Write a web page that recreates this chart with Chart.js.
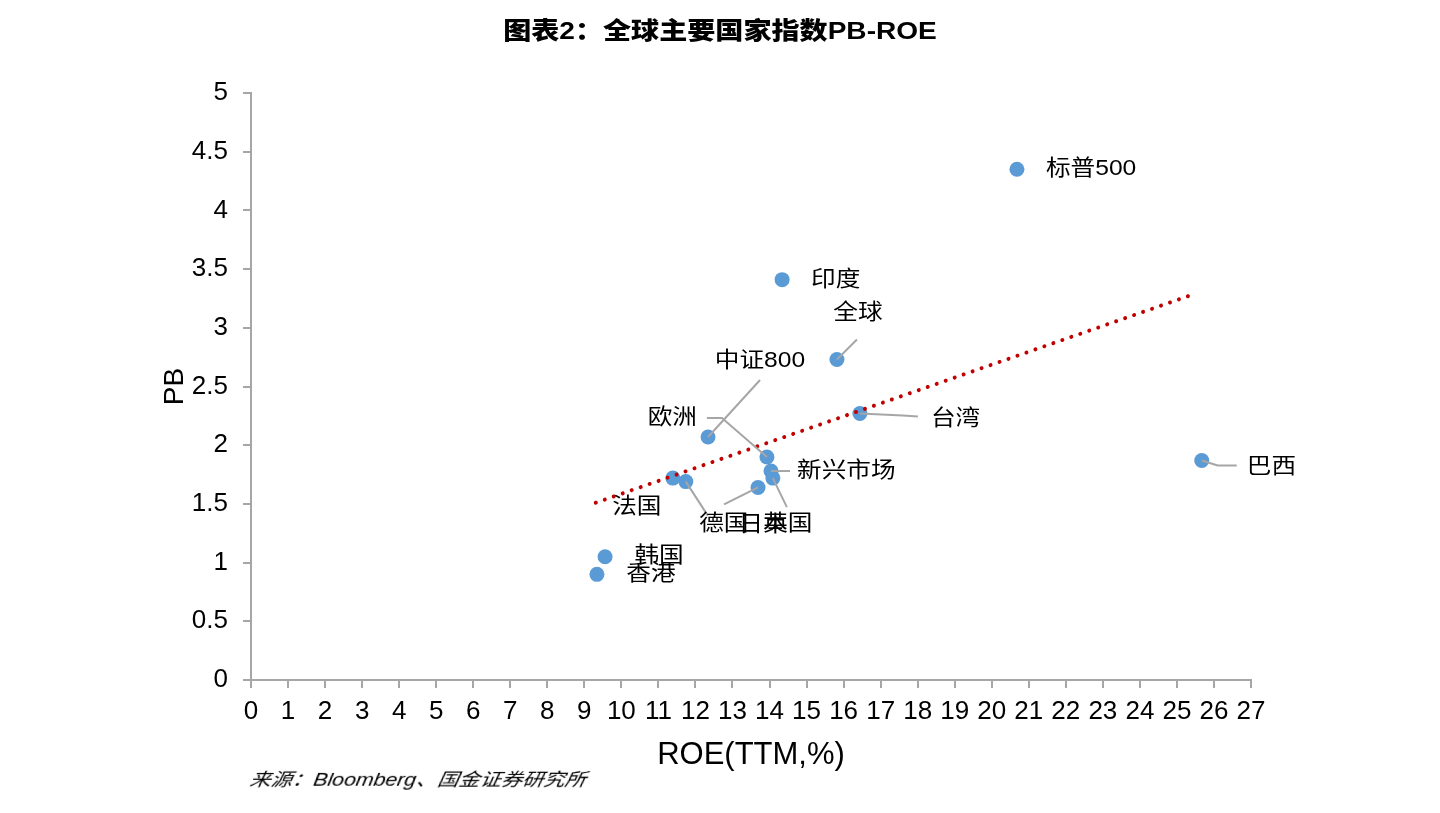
<!DOCTYPE html>
<html>
<head>
<meta charset="utf-8">
<script src="https://cdn.jsdelivr.net/npm/chart.js@4/dist/chart.umd.min.js"></script>
<style>
  html, body { margin: 0; padding: 0; background: #fff; }
  #wrap { position: relative; width: 1440px; height: 813px; overflow: hidden; }
  #c { position: absolute; left: 0; top: 0; }
  #title { position: absolute; left: 0; width: 1440px; top: 15px; text-align: center;
           font: 900 24px "Liberation Sans", "Noto Sans CJK SC", sans-serif; color: #000;
           transform: scaleX(1.17); transform-origin: 720px 0; line-height: 32px; }
  #source { position: absolute; left: 252px; top: 767px; white-space: nowrap;
            font: italic 18px "Liberation Sans", "Noto Sans CJK SC", sans-serif; color: #000;
            transform: scaleX(1.18) skewX(-8deg); transform-origin: 0 0; line-height: 26px; }
</style>
</head>
<body>
<div id="wrap">
  <canvas id="c" width="1440" height="813"></canvas>
  <div id="title">图表2：全球主要国家指数PB-ROE</div>
  <div id="source">来源：Bloomberg、国金证券研究所</div>
</div>
<script>
// ---- data ----
const names = ['标普500','印度','全球','中证800','台湾','巴西','欧洲','新兴市场','英国','日本','德国','法国','韩国','香港'];
const roe   = [20.68, 14.34, 15.82, 12.34, 16.44, 25.67, 13.93, 14.04, 14.09, 13.69, 11.74, 11.39, 9.56, 9.34];
const pb    = [4.35, 3.41, 2.73, 2.07, 2.27, 1.87, 1.90, 1.78, 1.72, 1.64, 1.69, 1.72, 1.05, 0.90];
const trendX = [9.31, 25.49];
const trendY = [1.51, 3.29];
const xTicks = [0,1,2,3,4,5,6,7,8,9,10,11,12,13,14,15,16,17,18,19,20,21,22,23,24,25,26,27];
const yTicks = [0,0.5,1,1.5,2,2.5,3,3.5,4,4.5,5];

// ---- label layout (pixel offsets from each point) ----
const labelLayout = [
  {align:'left',   dx:29,  dy:0,   leader:null},
  {align:'left',   dx:29,  dy:0,   leader:null},
  {align:'center', dx:21,  dy:-47, leader:[[0,0],[20,-20]]},
  {align:'center', dx:52,  dy:-76, leader:[[0,0],[52,-57]]},
  {align:'left',   dx:71,  dy:5,   leader:[[0,0],[43,2],[58,3]]},
  {align:'left',   dx:45,  dy:6,   leader:[[0,0],[16,5],[35,5]]},
  {align:'right',  dx:-70, dy:-39, leader:[[0,0],[-45,-39],[-60,-39]]},
  {align:'left',   dx:26,  dy:0,   leader:[[0,0],[19,0]]},
  {align:'center', dx:15,  dy:46,  leader:[[0,0],[14,29]]},
  {align:'center', dx:5,   dy:37,  leader:[[0,0],[-34,17]]},
  {align:'center', dx:38,  dy:42,  leader:[[0,0],[22,34]]},
  {align:'center', dx:-36, dy:29,  leader:null},
  {align:'center', dx:54,  dy:-1,  leader:null},
  {align:'center', dx:54,  dy:0,   leader:null}
];

const points = roe.map((v, i) => ({x: v, y: pb[i]}));
const trend = trendX.map((v, i) => ({x: v, y: trendY[i]}));

const labelPlugin = {
  id: 'pointLabels',
  afterDatasetsDraw(chart) {
    const ctx = chart.ctx;
    const xs = chart.scales.x, ys = chart.scales.y;
    ctx.save();
    ctx.strokeStyle = '#a6a6a6';
    ctx.lineWidth = 2;
    ctx.lineJoin = 'round';
    points.forEach((p, i) => {
      const L = labelLayout[i];
      if (!L.leader) return;
      const px = xs.getPixelForValue(p.x), py = ys.getPixelForValue(p.y);
      ctx.beginPath();
      L.leader.forEach((o, k) => {
        if (k === 0) ctx.moveTo(px + o[0], py + o[1]); else ctx.lineTo(px + o[0], py + o[1]);
      });
      ctx.stroke();
    });
    ctx.fillStyle = '#000';
    ctx.font = '22px "Liberation Sans", "Noto Sans CJK SC", sans-serif';
    ctx.textBaseline = 'middle';
    points.forEach((p, i) => {
      const L = labelLayout[i];
      const px = xs.getPixelForValue(p.x), py = ys.getPixelForValue(p.y);
      ctx.save();
      ctx.translate(px + L.dx, py + L.dy);
      ctx.scale(1.12, 1);
      ctx.textAlign = L.align;
      ctx.fillText(names[i], 0, 0);
      ctx.restore();
    });
    ctx.restore();
  }
};

const axisColor = '#a6a6a6';
const tickFontX = {family: '"Liberation Sans", Arial, sans-serif', size: 26};
const tickFontY = {family: '"Liberation Sans", Arial, sans-serif', size: 26};

new Chart(document.getElementById('c'), {
  type: 'scatter',
  data: {
    datasets: [
      {
        type: 'line',
        data: trend,
        borderColor: '#c00000',
        borderWidth: 4,
        borderDash: [0.001, 9.5],
        borderCapStyle: 'round',
        pointRadius: 0,
        fill: false
      },
      {
        data: points,
        backgroundColor: '#5b9bd5',
        borderWidth: 0,
        pointRadius: 7.5,
        pointHoverRadius: 7.5
      }
    ]
  },
  options: {
    responsive: false,
    devicePixelRatio: 1,
    animation: false,
    events: [],
    layout: { padding: { left: 0, right: 189, top: 93, bottom: 38 } },
    plugins: { legend: { display: false }, tooltip: { enabled: false }, title: { display: false } },
    scales: {
      x: {
        type: 'linear',
        min: 0, max: 27,
        afterBuildTicks(scale) { scale.ticks = xTicks.map(v => ({value: v})); },
        afterFit(scale) { scale.height = 95; },
        ticks: { color: '#000', font: tickFontX, padding: 8, maxRotation: 0, autoSkip: false,
                 callback: v => String(v) },
        grid: { display: true, drawOnChartArea: false, drawTicks: true, tickLength: 8, color: axisColor, lineWidth: 2 },
        border: { display: true, color: axisColor, width: 2 },
        title: { display: true, text: 'ROE(TTM,%)', color: '#000',
                 font: {family: '"Liberation Sans", Arial, sans-serif', size: 31}, padding: {top: 0, bottom: 1} }
      },
      y: {
        type: 'linear',
        min: 0, max: 5,
        afterBuildTicks(scale) { scale.ticks = yTicks.map(v => ({value: v})); },
        afterFit(scale) { scale.width = 251; },
        ticks: { color: '#000', font: tickFontY, padding: 15, autoSkip: false,
                 callback: v => String(v) },
        grid: { display: true, drawOnChartArea: false, drawTicks: true, tickLength: 8, color: axisColor, lineWidth: 2 },
        border: { display: true, color: axisColor, width: 2 },
        title: { display: true, text: 'PB', color: '#000',
                 font: {family: '"Liberation Sans", Arial, sans-serif', size: 28}, padding: {top: 158, bottom: 0} }
      }
    }
  },
  plugins: [labelPlugin]
});
</script>
</body>
</html>
